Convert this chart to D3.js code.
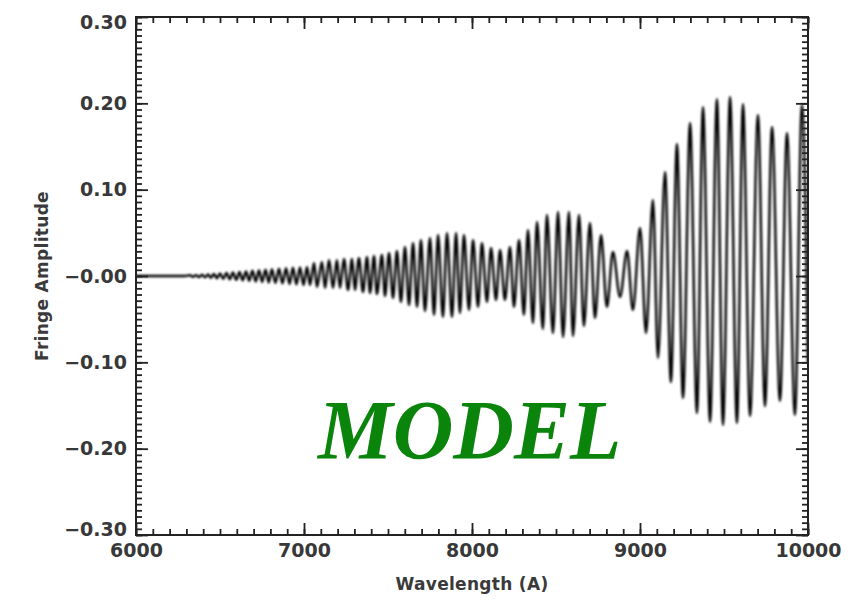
<!DOCTYPE html>
<html lang="en">
<head>
<meta charset="UTF-8">
<title>Fringe Amplitude - MODEL</title>
<style>
    body { margin: 0; background: #fff; }
    svg { display: block; }
    .tick text { font-family: "DejaVu Sans", sans-serif; font-size: 19px; font-weight: bold; fill: #383838; }
    .tick line { stroke: #222; stroke-width: 1.8; }
    .axis-title { font-family: "DejaVu Sans", sans-serif; font-size: 17px; font-weight: bold; fill: #3a3a3a; letter-spacing: 0.3px; }
    .model { font-family: "Liberation Serif", serif; font-style: italic; font-weight: bold; font-size: 84px; fill: #0a840a; }
</style>
</head>
<body>
<svg id="chart" width="853" height="600"></svg>
<script src="https://d3js.org/d3.v7.min.js"></script>
<script>
    // extrema of the fringe signal (wavelength in A, amplitude)
    const wavelength = [
        6000, 6290, 6321, 6339, 6357, 6375, 6393, 6411, 6429, 6446, 6464, 6482, 6500, 6519, 6539, 6558,
        6577, 6597, 6616, 6635, 6655, 6674, 6693, 6713, 6732, 6751, 6771, 6790, 6809, 6830, 6851, 6872,
        6893, 6914, 6934, 6955, 6976, 6997,
        7018, 7036, 7060, 7077, 7107, 7125, 7149, 7173, 7196, 7214, 7238, 7262, 7286, 7303, 7327, 7351,
        7375, 7393, 7417, 7434, 7464, 7482, 7506, 7530, 7553, 7577, 7601, 7625, 7649, 7673, 7696, 7720,
        7750, 7774, 7798, 7827, 7851, 7881, 7905, 7928, 7952, 7982, 8006, 8036, 8059, 8089, 8113, 8143,
        8167, 8196, 8226, 8250, 8280, 8309, 8333, 8363, 8387, 8422, 8446, 8482, 8512, 8542, 8577, 8601,
        8637, 8666, 8702, 8732, 8768, 8803, 8839, 8881, 8923, 8958, 9000, 9036, 9077, 9107, 9149, 9184,
        9220, 9256, 9298, 9339, 9375, 9417, 9458, 9494, 9536, 9577, 9613, 9655, 9702, 9744, 9786, 9833,
        9875, 9922, 9964, 10000
    ];
    const amplitude = [
        0, 0, 0.0008, -0.0009, 0.001, -0.0012, 0.0014, -0.0016, 0.0018, -0.002, 0.0023, -0.0026, 0.003, -0.0033, 0.0036, -0.0039,
        0.0042, -0.0045, 0.0048, -0.005, 0.0053, -0.0056, 0.006, -0.0063, 0.0066, -0.0069, 0.0072, -0.0075, 0.0078, -0.0081, 0.0084, -0.0087,
        0.009, -0.0093, 0.0096, -0.0099, 0.010, -0.0105,
        0.0104, -0.0104, 0.0151, -0.0127, 0.0162, -0.0139, 0.0185, -0.0139, 0.0185, -0.0139, 0.0197, -0.0162, 0.0197, -0.0162, 0.0209, -0.0185,
        0.0220, -0.0197, 0.0232, -0.0209, 0.0243, -0.0232, 0.0267, -0.0255, 0.0290, -0.0301, 0.0336, -0.0336, 0.0382, -0.0359, 0.0417, -0.0406,
        0.0440, -0.0452, 0.0475, -0.0475, 0.0498, -0.0475, 0.0498, -0.0429, 0.0475, -0.0394, 0.0417, -0.0359, 0.0382, -0.0301, 0.0325, -0.0278,
        0.0301, -0.0278, 0.0336, -0.0359, 0.0417, -0.0452, 0.0533, -0.0545, 0.0626, -0.0614, 0.0707, -0.0661, 0.0742, -0.0707, 0.0742, -0.0695,
        0.0707, -0.0580, 0.0614, -0.0487, 0.0475, -0.0359, 0.0278, -0.0243, 0.0290, -0.0394, 0.0556, -0.0661, 0.0881, -0.0950, 0.1205, -0.1229,
        0.1530, -0.1414, 0.1773, -0.1588, 0.1959, -0.1692, 0.2051, -0.1727, 0.2075, -0.1704, 0.1993, -0.1623, 0.1866, -0.1507, 0.1727, -0.1449,
        0.1657, -0.1611, 0.1982, -0.10
    ];

    const xTicks = [6000, 7000, 8000, 9000, 10000];
    const xTickLabels = ["6000", "7000", "8000", "9000", "10000"];
    const yTicks = [0.3, 0.2, 0.1, 0, -0.1, -0.2, -0.3];
    const yTickLabels = ["0.30", "0.20", "0.10", "\u22120.00", "\u22120.10", "\u22120.20", "\u22120.30"];

    let margin = {left: 136, right: 45, top: 17, bottom: 65};
    let width = 853 - margin.left - margin.right;
    let height = 600 - margin.top - margin.bottom;

    const svg = d3.select("#chart");
    const g = svg.append("g").attr("transform", `translate(${margin.left}, ${margin.top})`);

    let xScale = d3.scaleLinear().domain([6000, 10000]).range([0, width]);
    let yScale = d3.scaleLinear().domain([-0.3, 0.3]).range([height, 0]);

    let xMinor = d3.range(6000, 10001, 100);
    let yMinor = d3.range(0, 6 * 14 + 1).map(i => -0.3 + i * 0.1 / 14);

    svg.append("defs").html(
        `<clipPath id="plotClip"><rect width="${width}" height="${height}"></rect></clipPath>` +
        `<filter id="soft" x="-5%" y="-5%" width="110%" height="110%"><feGaussianBlur stdDeviation="1.0"></feGaussianBlur></filter>`
    );

    // the fringe signal
    let points = wavelength.map((w, i) => [w, amplitude[i]]);
    let line = d3.line()
        .x(d => xScale(d[0]))
        .y(d => yScale(d[1]))
        .curve(d3.curveMonotoneX);

    g.append("g")
        .attr("clip-path", "url(#plotClip)")
        .append("path")
        .datum(points)
        .attr("d", line)
        .attr("fill", "none")
        .attr("stroke", "#000")
        .attr("stroke-width", 2.4)
        .attr("filter", "url(#soft)");

    // inward ticks on all four sides
    function drawAxis(axis, tx, ty) {
        let a = g.append("g").attr("transform", `translate(${tx}, ${ty})`).call(axis);
        a.select(".domain").remove();
        return a;
    }

    drawAxis(d3.axisBottom(xScale).tickValues(xMinor).tickSize(-6).tickFormat(""), 0, height);
    drawAxis(d3.axisBottom(xScale).tickValues(xTicks).tickSize(-12).tickPadding(9)
        .tickFormat((d, i) => xTickLabels[i]), 0, height);
    drawAxis(d3.axisTop(xScale).tickValues(xMinor).tickSize(-6).tickFormat(""), 0, 0);
    drawAxis(d3.axisTop(xScale).tickValues(xTicks).tickSize(-12).tickFormat(""), 0, 0);

    drawAxis(d3.axisLeft(yScale).tickValues(yMinor).tickSize(-6).tickFormat(""), 0, 0);
    let yAxis = drawAxis(d3.axisLeft(yScale).tickValues(yTicks).tickSize(-12).tickPadding(9)
        .tickFormat((d, i) => yTickLabels[i]), 0, 0);
    drawAxis(d3.axisRight(yScale).tickValues(yMinor).tickSize(-6).tickFormat(""), width, 0);
    drawAxis(d3.axisRight(yScale).tickValues(yTicks).tickSize(-12).tickFormat(""), width, 0);

    g.selectAll(".tick text").attr("font-size", null).attr("font-family", null).attr("fill", null);

    // end labels sit a little inside the frame, as in the original
    yAxis.selectAll(".tick text")
        .attr("y", d => d === 0.3 ? 5 : d === -0.3 ? -6 : 0);

    g.append("rect")
        .attr("width", width)
        .attr("height", height)
        .attr("fill", "none")
        .attr("stroke", "#222")
        .attr("stroke-width", 2);

    g.append("text")
        .attr("class", "axis-title")
        .attr("x", width / 2)
        .attr("y", height + 55)
        .attr("text-anchor", "middle")
        .text("Wavelength (A)");

    g.append("text")
        .attr("class", "axis-title")
        .attr("transform", `translate(${-88}, ${yScale(0)}) rotate(-90)`)
        .attr("text-anchor", "middle")
        .text("Fringe Amplitude");

    g.append("text")
        .attr("class", "model")
        .attr("x", 182)
        .attr("y", 442)
        .text("MODEL");
</script>
</body>
</html>
